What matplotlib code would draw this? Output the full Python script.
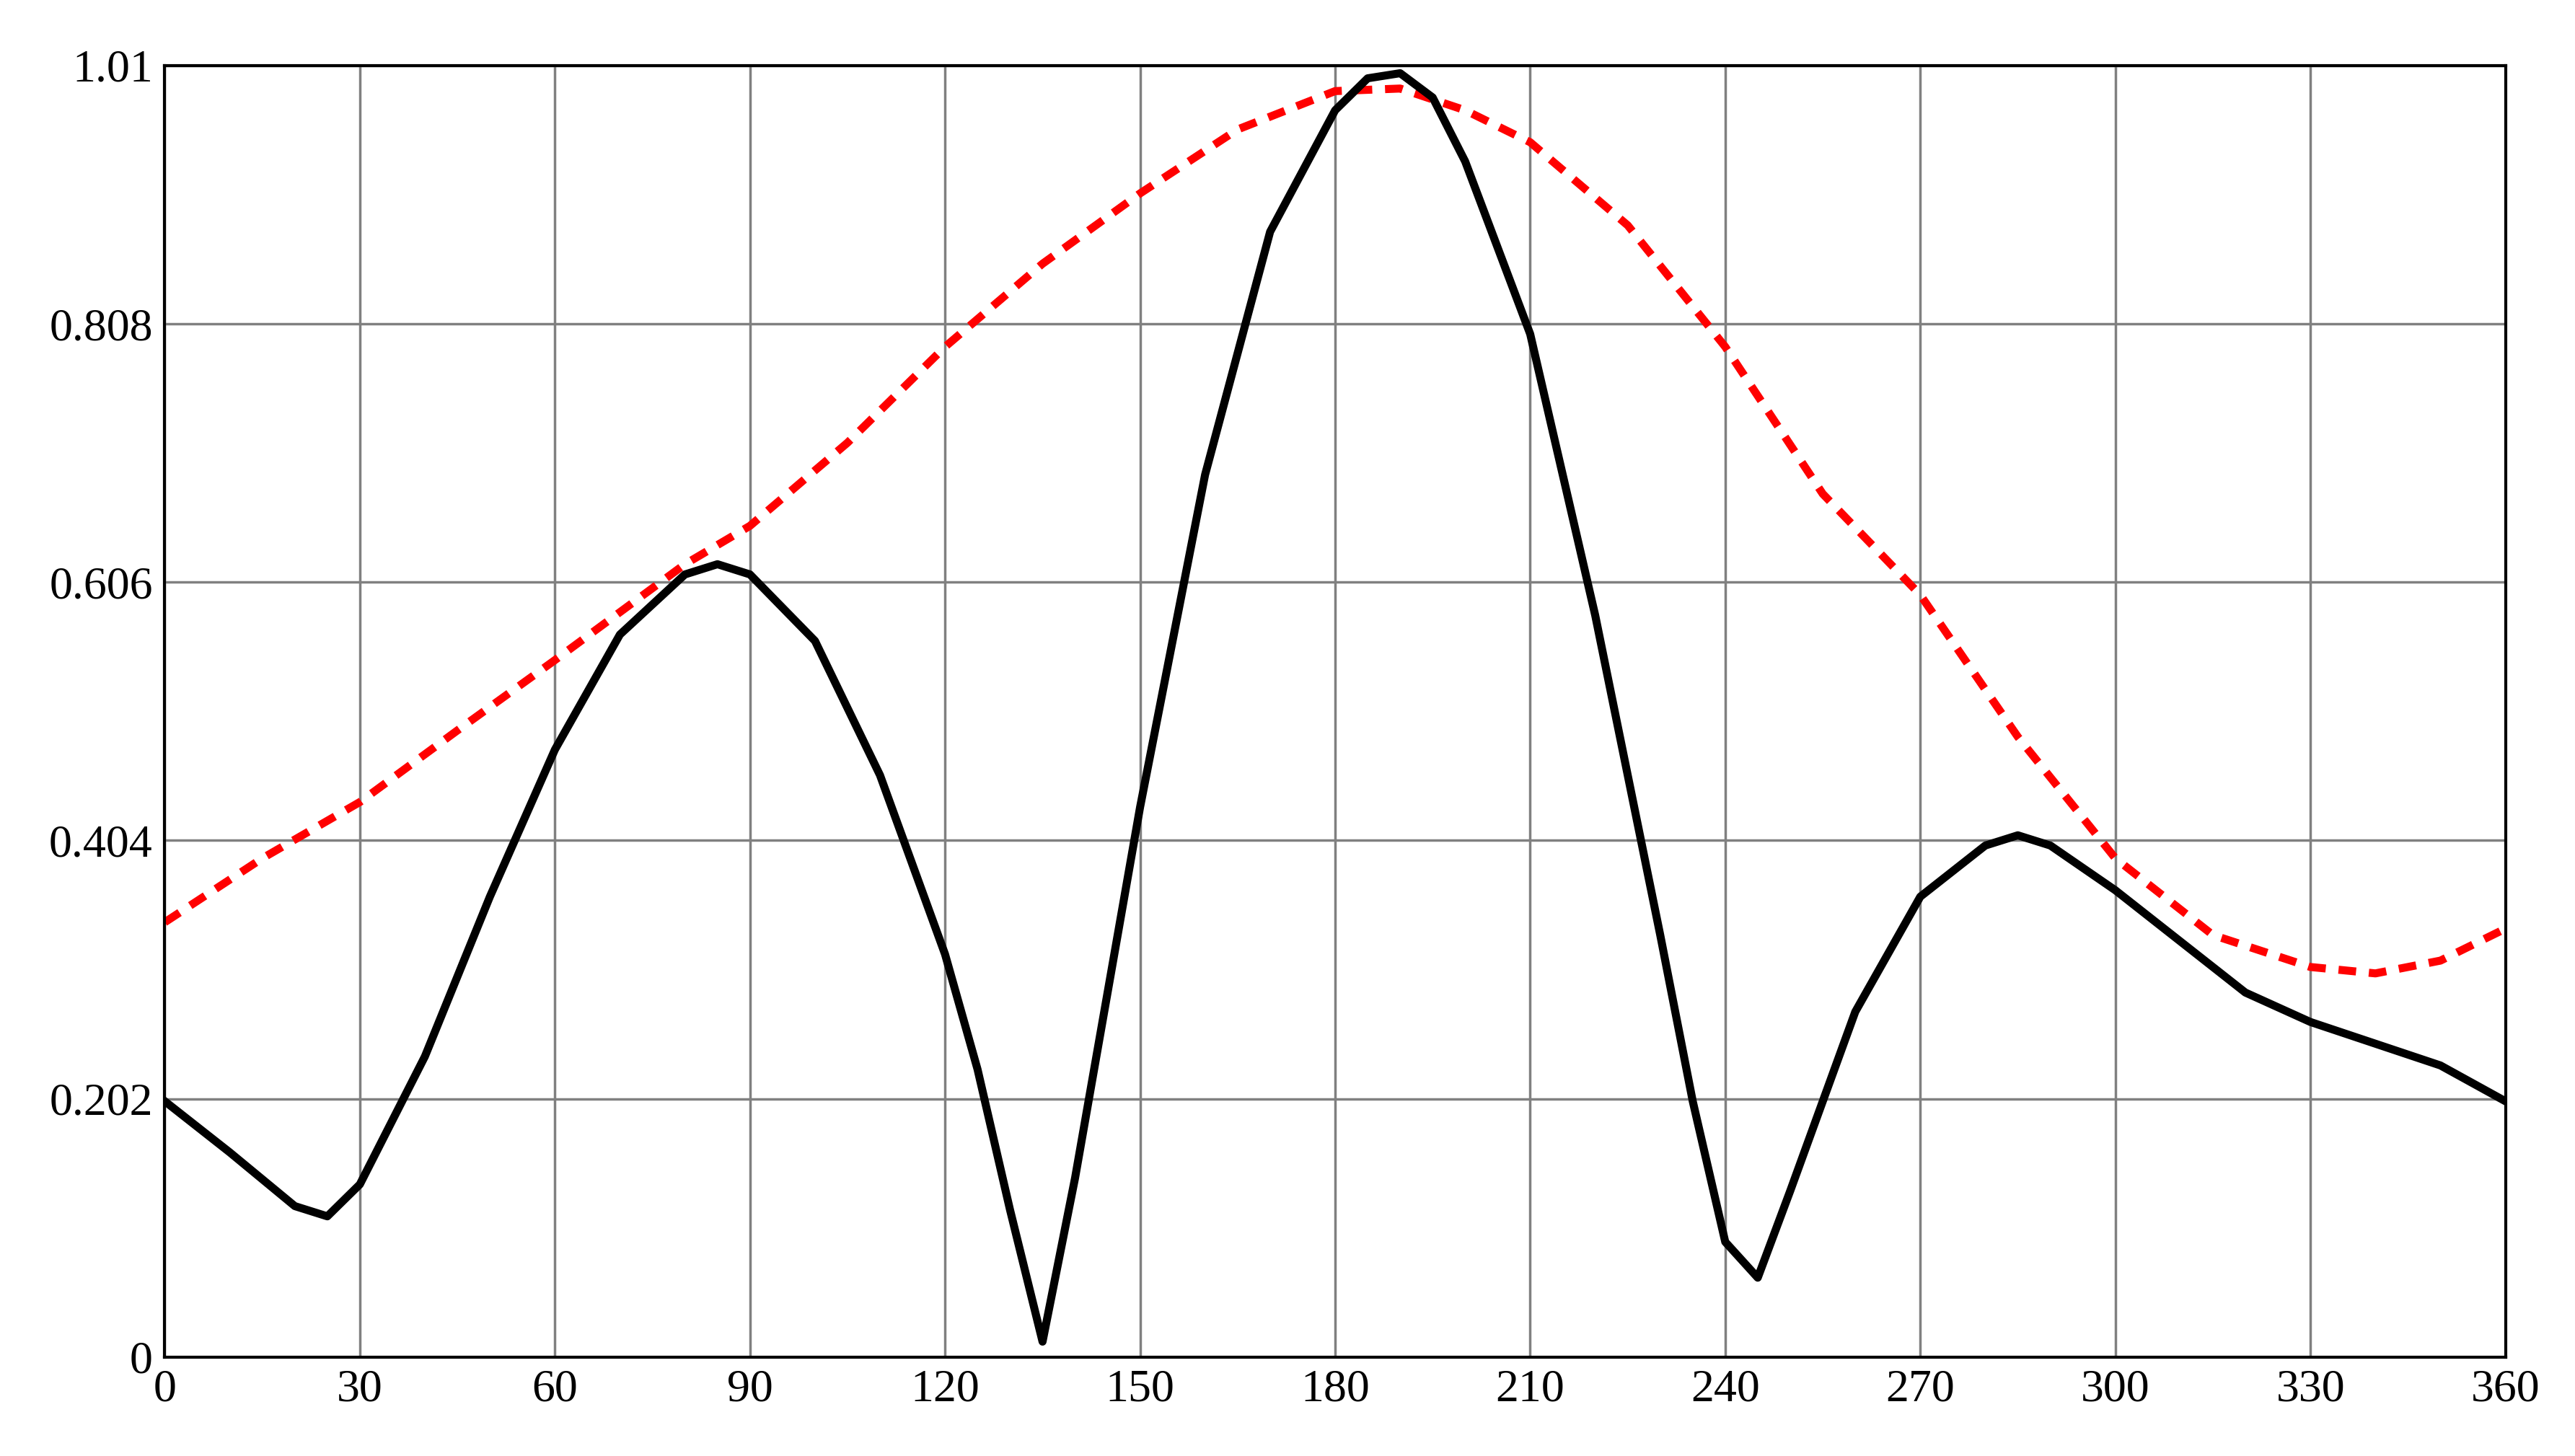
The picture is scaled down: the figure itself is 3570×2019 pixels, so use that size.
import numpy as np
import matplotlib.pyplot as plt

# black curve (solid)
black_x = [0, 10, 20, 25, 30, 40, 50, 60, 70, 80, 85, 90, 100, 110, 120, 125, 130, 135,
           140, 145, 150, 160, 170, 180, 185, 190, 195, 200, 210, 220, 230, 235, 240, 245,
           250, 260, 270, 280, 285, 290, 300, 310, 320, 330, 340, 350, 360]
black_y = [0.200, 0.160, 0.118, 0.110, 0.135, 0.235, 0.360, 0.475, 0.565, 0.612, 0.620, 0.612,
           0.560, 0.455, 0.315, 0.225, 0.115, 0.012, 0.140, 0.285, 0.430, 0.690, 0.880, 0.975,
           1.000, 1.004, 0.985, 0.935, 0.800, 0.580, 0.330, 0.200, 0.090, 0.062, 0.130, 0.270,
           0.360, 0.400, 0.408, 0.400, 0.365, 0.325, 0.285, 0.262, 0.245, 0.228, 0.200]

# red curve (dashed)
red_x = [0, 15, 30, 45, 60, 80, 90, 105, 120, 135, 150, 165, 180, 190, 200, 210, 225, 240,
         255, 270, 285, 300, 315, 330, 340, 350, 360]
red_y = [0.340, 0.390, 0.434, 0.490, 0.545, 0.620, 0.650, 0.715, 0.790, 0.855, 0.910, 0.960,
         0.990, 0.992, 0.975, 0.950, 0.885, 0.790, 0.675, 0.596, 0.485, 0.390, 0.330, 0.305,
         0.300, 0.310, 0.335]

xticks = np.arange(0, 361, 30)
yticks = [0, 0.202, 0.404, 0.606, 0.808, 1.01]
ylabels = ['0', '0.202', '0.404', '0.606', '0.808', '1.01']

plt.rcParams['font.family'] = ['Liberation Serif', 'DejaVu Serif']

fig = plt.figure(figsize=(35.7, 20.19), dpi=100)
ax = fig.add_axes([0.064, 0.068, 0.909, 0.887])

ax.plot(red_x, red_y, color='red', linestyle=(0, (2.2, 1.6)), linewidth=8)
ax.plot(black_x, black_y, color='black', linewidth=8)

ax.set_xlim(0, 360)
ax.set_ylim(0, 1.01)
ax.set_xticks(xticks)
ax.set_yticks(yticks)
ax.set_yticklabels(ylabels)
ax.tick_params(length=0, labelsize=46, pad=12)
ax.grid(True, color='#808080', linewidth=2.5)
ax.set_axisbelow(True)
for s in ax.spines.values():
    s.set_linewidth(3)

fig.savefig('out.png')
